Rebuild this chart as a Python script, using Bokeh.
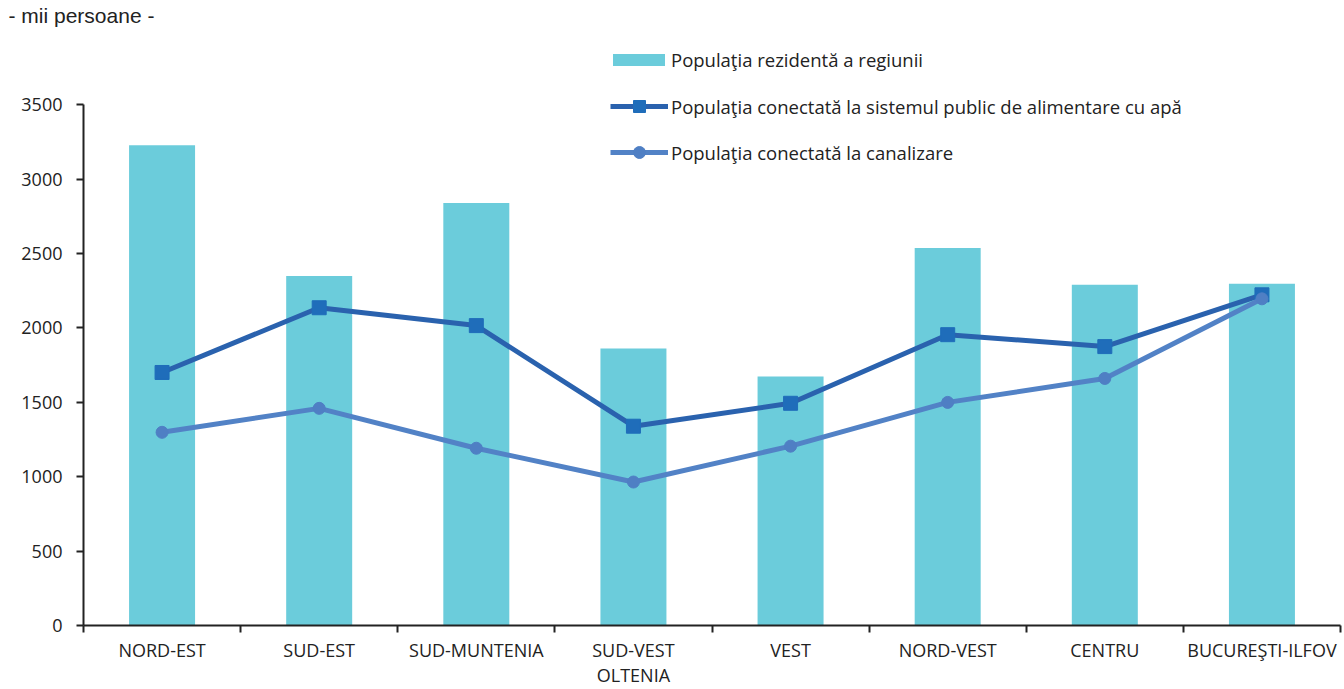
from bokeh.plotting import figure
from bokeh.models import FixedTicker, Legend, LegendItem, Range1d, Title
from bokeh.embed import file_html
from bokeh.resources import INLINE

categories = ["NORD-EST", "SUD-EST", "SUD-MUNTENIA", "SUD-VEST\nOLTENIA", "VEST",
              "NORD-VEST", "CENTRU", "BUCUREŞTI-ILFOV"]
resident = [3226, 2349, 2838, 1861, 1673, 2537, 2289, 2296]
water = [1700, 2135, 2015, 1339, 1493, 1954, 1874, 2222]
sewer = [1298, 1459, 1191, 964, 1205, 1499, 1660, 2195]
y_ticks = [0, 500, 1000, 1500, 2000, 2500, 3000, 3500]
y_top = 3500

n = len(categories)
xs = [i + 0.5 for i in range(n)]

FONT = "Open Sans"
p = figure(width=1344, height=689, output_backend="svg", toolbar_location=None,
           x_range=Range1d(0, n), y_range=Range1d(0, 4018),
           min_border_left=83, min_border_right=4, min_border_top=0, min_border_bottom=0)
p.outline_line_color = None
p.xgrid.visible = False
p.ygrid.visible = False

t = Title(text="- mii persoane -", align="left", offset=-75, text_font="Liberation Sans",
          text_font_size="21px", text_color="#222222", text_font_style="normal", standoff=2)
p.add_layout(t, "above")

bars = p.vbar(x=xs, top=resident, width=0.42, color="#6BCCDB", line_color=None)
wl = p.line(xs, water, line_width=5, color="#2A62AE")
ws = p.scatter(xs, water, marker="square", size=14, color="#1F6DBA")
sl = p.line(xs, sewer, line_width=5, color="#5282C6")
sc = p.scatter(xs, sewer, marker="circle", size=12, color="#4F7FC4")

ya = p.yaxis[0]
ya.bounds = (0, y_top)
ya.ticker = FixedTicker(ticks=y_ticks)
ya.axis_line_width = 2
ya.axis_line_color = "#222222"
ya.major_tick_line_width = 2
ya.major_tick_line_color = "#222222"
ya.major_tick_out = 7
ya.major_tick_in = 0
ya.minor_tick_line_color = None
ya.major_label_text_font = FONT
ya.major_label_text_font_size = "18px"
ya.major_label_text_color = "#222222"
ya.major_label_standoff = 14

xa = p.xaxis[0]
xa.ticker = FixedTicker(ticks=xs, minor_ticks=list(range(n + 1)))
xa.major_label_overrides = {x: c for x, c in zip(xs, categories)}
xa.axis_line_width = 2
xa.axis_line_color = "#222222"
xa.major_tick_line_color = None
xa.minor_tick_line_color = "#222222"
xa.minor_tick_line_width = 2
xa.minor_tick_out = 7
xa.minor_tick_in = 0
xa.major_label_text_font = FONT
xa.major_label_text_font_size = "18px"
xa.major_label_text_color = "#222222"
xa.major_label_text_line_height = 1.05
xa.major_label_standoff = 5

def style(leg):
    leg.border_line_color = None
    leg.background_fill_alpha = 0
    leg.padding = 0
    leg.margin = 0
    leg.label_height = 24
    leg.label_text_font = FONT
    leg.label_text_font_size = "18.5px"
    leg.label_text_color = "#222222"

B = 625  # approx frame bottom in page px (for legend placement)
leg1 = Legend(items=[LegendItem(label="Populaţia rezidentă a regiunii", renderers=[bars])],
              location=(523, B - 72))
style(leg1)
leg1.glyph_width = 65
leg1.glyph_height = 15
leg1.label_standoff = 0
p.add_layout(leg1, "center")

leg2 = Legend(items=[
    LegendItem(label="Populaţia conectată la sistemul public de alimentare cu apă", renderers=[wl, ws]),
    LegendItem(label="Populaţia conectată la canalizare", renderers=[sl, sc]),
], location=(527, B - 167))
style(leg2)
leg2.glyph_width = 58
leg2.glyph_height = 30
leg2.spacing = 16
leg2.label_standoff = 3
p.add_layout(leg2, "center")

open("out.html", "w").write(file_html(p, INLINE))
